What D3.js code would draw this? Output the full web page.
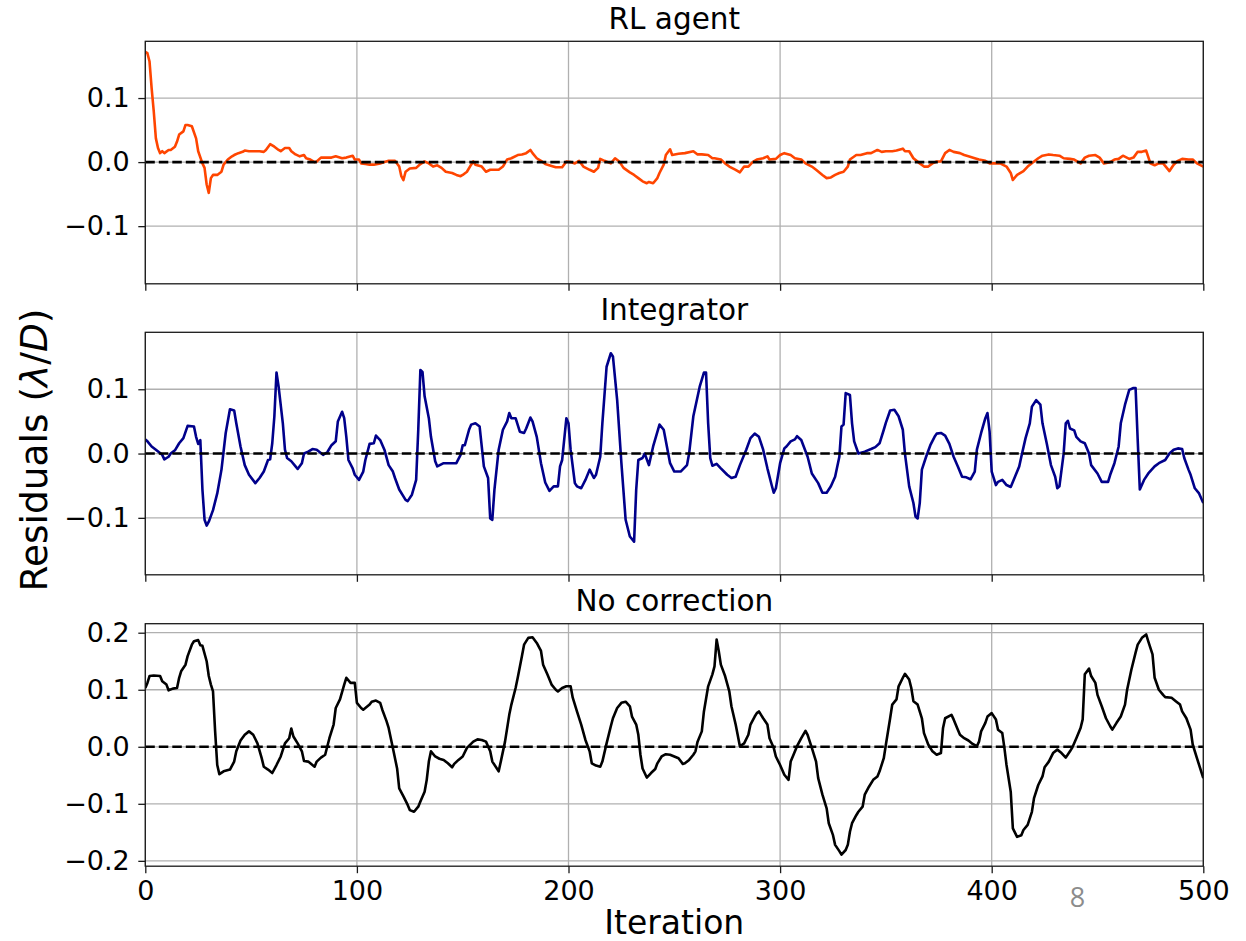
<!DOCTYPE html>
<html>
<head>
<meta charset="utf-8">
<script src="https://cdn.jsdelivr.net/npm/d3@7"></script>
<style>
  html, body { margin: 0; padding: 0; background: #fff; }
  svg { display: block; font-family: "DejaVu Sans", sans-serif; }
</style>
</head>
<body>
<svg id="chart" width="1246" height="941"></svg>
<script>
// ---- data: residuals per iteration for each control strategy ----
const rlIter = [0,1,2,3,4,5,6,7,8,9,11,12,14,15,16,18,19,20,22,24,25,27,28,29,30,31,32,34,36,37,39,41,42,44,46,47,49,51,54,56,57,59,61,63,64,66,68,69,71,73,75,76,78,80,81,83,85,88,90,93,95,98,99,101,102,104,106,108,111,113,115,118,120,121,122,123,125,128,130,132,134,136,138,140,142,145,147,149,150,152,154,155,156,159,161,163,167,169,171,173,176,178,180,182,183,185,187,189,192,194,197,199,201,203,205,207,210,212,214,215,217,220,222,224,226,229,231,233,235,237,238,240,242,243,245,246,248,249,252,255,259,261,263,266,268,269,272,274,276,279,281,283,285,287,289,292,294,295,298,300,302,305,307,310,312,315,317,320,322,324,326,328,330,332,333,336,338,341,343,346,348,350,353,355,358,359,361,363,366,368,370,372,374,376,378,380,382,385,387,389,392,394,397,399,402,404,407,409,410,412,415,417,420,422,424,427,429,432,434,437,439,442,444,446,449,451,453,456,458,460,462,465,467,469,471,473,475,477,479,481,484,486,488,490,493,495,497,500];
const rlResid = [0.172,0.170,0.157,0.115,0.079,0.037,0.022,0.014,0.017,0.014,0.019,0.019,0.024,0.032,0.043,0.048,0.058,0.058,0.056,0.037,0.017,-0.002,-0.009,-0.035,-0.048,-0.025,-0.020,-0.020,-0.015,-0.004,0.004,0.009,0.011,0.014,0.016,0.018,0.017,0.017,0.017,0.016,0.019,0.028,0.024,0.019,0.017,0.022,0.022,0.017,0.012,0.009,0.011,0.006,0.004,0.000,0.001,0.007,0.007,0.007,0.009,0.006,0.007,0.010,0.004,0.004,-0.002,-0.003,-0.004,-0.004,-0.002,0.000,0.002,0.002,-0.007,-0.022,-0.028,-0.015,-0.010,-0.009,-0.003,0.001,-0.002,-0.007,-0.005,-0.009,-0.015,-0.017,-0.020,-0.022,-0.020,-0.015,-0.004,0.001,-0.004,-0.007,-0.015,-0.012,-0.012,-0.007,0.004,0.006,0.011,0.012,0.014,0.019,0.014,0.006,0.002,-0.003,-0.006,-0.008,-0.008,0.001,0.000,-0.002,0.002,-0.007,-0.012,-0.015,-0.009,0.005,0.002,-0.002,0.006,0.001,-0.009,-0.016,-0.020,-0.025,-0.030,-0.033,-0.031,-0.033,-0.025,-0.017,-0.004,0.011,0.020,0.011,0.013,0.014,0.017,0.012,0.012,0.011,0.006,0.006,0.004,-0.002,-0.007,-0.012,-0.016,-0.007,-0.007,0.000,0.004,0.006,0.009,0.004,0.005,0.011,0.014,0.011,0.006,0.004,-0.002,-0.007,-0.012,-0.020,-0.025,-0.024,-0.020,-0.017,-0.015,-0.007,0.004,0.011,0.011,0.014,0.014,0.019,0.016,0.017,0.017,0.018,0.021,0.017,0.017,0.006,-0.002,-0.007,-0.007,-0.002,0.001,0.001,0.014,0.019,0.016,0.014,0.011,0.009,0.006,0.004,0.002,-0.002,-0.002,-0.002,-0.007,-0.017,-0.028,-0.020,-0.014,-0.007,0.001,0.006,0.010,0.012,0.011,0.010,0.006,0.005,0.004,-0.002,0.007,0.010,0.011,0.007,-0.002,0.000,0.004,0.005,0.010,0.005,0.007,0.016,0.016,0.018,-0.002,-0.005,-0.002,-0.002,-0.014,-0.004,0.002,0.005,0.004,0.004,-0.002,-0.007];

const intIter = [0,1,3,5,8,9,11,12,14,16,18,20,23,24,25,26,27,28,29,30,32,34,36,38,40,42,43,45,47,49,52,54,56,58,59,60,61,62,63,65,66,67,69,71,72,74,75,77,79,81,84,86,88,90,91,93,94,95,96,98,99,101,103,104,106,108,109,111,113,115,117,118,120,123,124,126,128,129,130,131,132,134,135,137,138,141,144,147,149,150,151,153,154,156,158,159,160,162,163,164,165,167,169,171,172,173,175,177,179,180,182,183,185,187,189,191,193,195,196,197,199,200,201,203,204,206,208,210,212,213,215,216,218,220,221,223,225,227,229,231,232,233,235,236,238,240,243,245,248,250,253,256,257,259,262,264,265,266,267,268,270,272,275,277,279,281,284,286,288,290,292,294,296,297,298,300,302,303,305,307,308,310,313,315,318,320,322,324,326,328,329,330,331,333,334,335,337,340,343,345,347,349,350,352,354,356,358,359,361,363,364,365,366,367,369,371,373,374,376,378,380,382,384,386,388,390,392,393,395,397,398,399,400,402,403,405,407,409,411,413,414,416,418,419,421,423,424,426,428,430,431,432,434,435,436,437,439,440,442,444,446,447,450,452,455,456,458,460,461,463,465,467,468,469,470,472,474,477,479,482,484,486,488,490,491,493,494,496,498,500];
const intResid = [0.022,0.019,0.011,0.006,-0.002,-0.009,-0.005,0.000,0.005,0.016,0.024,0.043,0.042,0.026,0.015,0.021,-0.056,-0.103,-0.112,-0.106,-0.088,-0.062,-0.025,0.032,0.069,0.067,0.047,0.011,-0.018,-0.033,-0.046,-0.038,-0.028,-0.010,-0.009,0.016,0.058,0.126,0.104,0.047,0.006,-0.007,-0.012,-0.020,-0.024,-0.015,0.000,0.003,0.007,0.006,-0.002,0.002,0.013,0.019,0.050,0.065,0.055,0.026,-0.010,-0.023,-0.033,-0.041,-0.028,-0.010,0.015,0.016,0.028,0.021,0.006,-0.018,-0.028,-0.038,-0.056,-0.072,-0.074,-0.064,-0.041,0.037,0.130,0.127,0.089,0.055,0.026,-0.012,-0.020,-0.015,-0.015,-0.015,-0.002,0.013,0.013,0.037,0.045,0.047,0.042,0.011,-0.020,-0.038,-0.101,-0.103,-0.056,0.006,0.037,0.050,0.063,0.055,0.055,0.034,0.032,0.039,0.056,0.050,0.026,-0.015,-0.045,-0.058,-0.051,-0.051,-0.020,-0.010,0.055,0.047,0.006,-0.046,-0.051,-0.054,-0.041,-0.025,-0.038,-0.033,-0.005,0.047,0.135,0.156,0.151,0.083,-0.015,-0.103,-0.129,-0.137,-0.056,-0.010,-0.007,0.000,-0.018,0.011,0.045,0.037,-0.015,-0.028,-0.028,-0.018,0.000,0.058,0.104,0.126,0.126,0.047,-0.007,-0.019,-0.016,-0.023,-0.033,-0.038,-0.036,-0.018,0.006,0.024,0.031,0.026,0.006,-0.023,-0.049,-0.061,-0.054,-0.015,0.008,0.011,0.019,0.022,0.027,0.021,-0.005,-0.031,-0.046,-0.061,-0.061,-0.051,-0.036,-0.005,0.042,0.045,0.094,0.091,0.047,0.019,0.000,0.003,0.007,0.010,0.016,0.037,0.048,0.067,0.068,0.058,0.037,0.000,-0.051,-0.077,-0.098,-0.101,-0.077,-0.025,-0.005,0.013,0.026,0.031,0.032,0.028,0.015,-0.005,-0.020,-0.036,-0.037,-0.040,-0.028,0.006,0.032,0.055,0.063,0.034,-0.028,-0.049,-0.044,-0.041,-0.049,-0.052,-0.036,-0.020,-0.005,0.024,0.047,0.073,0.083,0.076,0.047,0.016,-0.018,-0.036,-0.054,-0.051,0.000,0.047,0.051,0.039,0.036,0.026,0.019,0.016,0.000,-0.018,-0.031,-0.044,-0.044,-0.033,-0.015,0.011,0.047,0.076,0.099,0.102,0.102,0.021,-0.056,-0.041,-0.031,-0.020,-0.015,-0.010,0.000,0.006,0.008,0.007,-0.007,-0.025,-0.033,-0.054,-0.062,-0.077];

const noIter = [0,1,2,4,7,8,10,11,13,15,16,17,19,20,22,23,25,26,27,29,30,31,32,33,34,35,37,40,42,43,45,47,49,51,53,55,56,58,60,62,64,66,68,69,70,72,74,75,77,80,81,83,85,87,89,90,92,94,95,97,99,100,102,103,106,107,109,111,112,114,115,117,119,120,122,124,125,127,129,130,132,133,134,135,137,139,141,143,145,146,148,150,152,155,157,159,161,163,164,167,168,170,172,173,175,176,178,179,181,183,185,187,188,190,192,194,195,197,199,201,202,204,206,208,210,211,213,215,216,218,220,221,223,225,227,229,230,232,233,234,235,237,239,241,242,244,246,248,250,252,254,255,257,259,260,261,263,264,266,268,269,270,271,272,274,276,277,279,281,283,285,286,288,289,290,292,294,295,297,298,300,302,304,305,306,308,310,312,313,315,317,318,320,322,323,325,326,328,329,331,332,333,334,336,337,339,340,342,344,346,347,349,350,352,353,355,356,358,359,361,362,363,365,367,368,370,372,374,376,377,378,381,382,384,385,387,389,391,393,394,395,397,398,400,402,403,405,406,407,409,410,412,414,415,417,419,420,422,424,425,427,429,431,433,435,437,438,440,442,443,444,446,447,449,450,452,454,456,457,459,461,463,464,466,468,469,471,473,474,476,477,479,481,482,485,487,489,490,492,494,495,497,500];
const noResid = [0.103,0.112,0.124,0.125,0.124,0.115,0.109,0.099,0.102,0.103,0.121,0.133,0.144,0.159,0.179,0.185,0.187,0.178,0.177,0.150,0.124,0.109,0.097,0.027,-0.032,-0.048,-0.043,-0.040,-0.026,-0.008,0.011,0.021,0.027,0.021,0.006,-0.020,-0.035,-0.040,-0.046,-0.032,-0.017,0.006,0.015,0.032,0.018,0.006,-0.008,-0.025,-0.026,-0.035,-0.026,-0.019,-0.014,0.015,0.039,0.068,0.083,0.109,0.121,0.112,0.112,0.077,0.068,0.065,0.074,0.079,0.081,0.077,0.065,0.045,0.033,-0.002,-0.038,-0.073,-0.087,-0.102,-0.111,-0.114,-0.105,-0.096,-0.079,-0.058,-0.026,-0.008,-0.017,-0.021,-0.023,-0.029,-0.036,-0.030,-0.023,-0.017,-0.002,0.009,0.013,0.012,0.009,-0.008,-0.026,-0.043,-0.026,0.009,0.056,0.074,0.103,0.121,0.159,0.179,0.191,0.192,0.182,0.168,0.144,0.127,0.109,0.100,0.097,0.103,0.106,0.106,0.086,0.062,0.039,0.012,-0.008,-0.029,-0.033,-0.035,-0.026,0.006,0.036,0.050,0.068,0.077,0.079,0.071,0.053,0.039,0.021,-0.014,-0.038,-0.054,-0.046,-0.039,-0.029,-0.017,-0.013,-0.014,-0.017,-0.020,-0.030,-0.029,-0.023,-0.014,-0.008,0.009,0.027,0.062,0.106,0.127,0.141,0.188,0.168,0.144,0.124,0.097,0.071,0.039,0.001,0.006,0.021,0.039,0.053,0.059,0.062,0.050,0.039,0.015,-0.002,-0.017,-0.032,-0.049,-0.058,-0.026,-0.017,0.001,0.015,0.028,0.021,-0.002,-0.026,-0.055,-0.084,-0.108,-0.134,-0.155,-0.172,-0.183,-0.189,-0.181,-0.172,-0.149,-0.134,-0.120,-0.114,-0.105,-0.084,-0.070,-0.058,-0.052,-0.043,-0.020,0.004,0.050,0.074,0.083,0.106,0.121,0.128,0.118,0.103,0.080,0.074,0.050,0.024,0.004,-0.008,-0.014,-0.011,0.033,0.050,0.056,0.048,0.030,0.021,0.015,0.011,0.005,0.001,0.009,0.027,0.042,0.053,0.059,0.048,0.030,0.024,-0.002,-0.032,-0.079,-0.143,-0.158,-0.155,-0.146,-0.137,-0.114,-0.090,-0.067,-0.052,-0.036,-0.026,-0.011,-0.005,-0.011,-0.019,-0.008,-0.002,0.015,0.033,0.048,0.127,0.137,0.124,0.112,0.091,0.071,0.050,0.036,0.030,0.042,0.053,0.074,0.100,0.135,0.165,0.179,0.191,0.197,0.185,0.162,0.121,0.100,0.091,0.087,0.086,0.080,0.074,0.062,0.050,0.030,0.004,-0.020,-0.055];

const panelTitles = ["RL agent", "Integrator", "No correction"];
const seriesColors = ["#ff4500", "#00008b", "#000000"];
const xTicks = [0, 100, 200, 300, 400, 500];
const yTicksSmall = [-0.1, 0.0, 0.1];
const yTicksLarge = [-0.2, -0.1, 0.0, 0.1, 0.2];
const yDomains = [[-0.19, 0.1886], [-0.1886, 0.1886], [-0.2094, 0.2158]];

// ---- layout ----
const svg = d3.select("#chart");
const left = 145.3, right = 1203.3;
const panelTops = [41.3, 332.3, 623.7];
const panelH = 242.5;

const x = d3.scaleLinear().domain([0, 500]).range([left, right]);

const series = [
  { iter: rlIter, resid: rlResid },
  { iter: intIter, resid: intResid },
  { iter: noIter, resid: noResid }
];

const fmt = d3.format(".1f");

series.forEach((s, i) => {
  const top = panelTops[i], bottom = top + panelH;
  const y = d3.scaleLinear().domain(yDomains[i]).range([bottom, top]);
  const yTicks = i === 2 ? yTicksLarge : yTicksSmall;
  const g = svg.append("g");

  // clip region for this axes
  const clipId = "clip" + i;
  svg.append("clipPath").attr("id", clipId)
    .append("rect").attr("x", left).attr("y", top)
    .attr("width", right - left).attr("height", panelH);

  // grid
  const grid = g.append("g").attr("stroke", "#b0b0b0").attr("stroke-width", 1.3);
  grid.selectAll("line.gx").data(xTicks).join("line")
    .attr("x1", d => x(d)).attr("x2", d => x(d))
    .attr("y1", top).attr("y2", bottom);
  grid.selectAll("line.gy").data(yTicks).join("line")
    .attr("x1", left).attr("x2", right)
    .attr("y1", d => y(d)).attr("y2", d => y(d));

  // residual trace
  const pts = s.iter.map((it, k) => [it, s.resid[k]]);
  g.append("path")
    .attr("clip-path", `url(#${clipId})`)
    .attr("d", d3.line().x(d => x(d[0])).y(d => y(d[1]))(pts))
    .attr("fill", "none")
    .attr("stroke", seriesColors[i])
    .attr("stroke-width", 2.6)
    .attr("stroke-linejoin", "round");

  // zero reference
  g.append("line")
    .attr("x1", left).attr("x2", right)
    .attr("y1", y(0)).attr("y2", y(0))
    .attr("stroke", "#000").attr("stroke-width", 2.6)
    .attr("stroke-dasharray", "9.5,4");

  // frame
  g.append("rect")
    .attr("x", left).attr("y", top)
    .attr("width", right - left).attr("height", panelH)
    .attr("fill", "none").attr("stroke", "#1a1a1a").attr("stroke-width", 1.3);

  // y axis
  const ya = g.append("g").attr("transform", `translate(${left},0)`)
    .call(d3.axisLeft(y).tickValues(yTicks).tickFormat(fmt).tickSize(7).tickSizeOuter(0).tickPadding(8.5));
  ya.select(".domain").remove();
  ya.selectAll("line").attr("stroke", "#1a1a1a").attr("stroke-width", 1.3);
  ya.selectAll("text").attr("font-size", 27).attr("fill", "#000")
    .attr("font-family", "DejaVu Sans");

  // x axis (labels only on the bottom panel)
  const xa = g.append("g").attr("transform", `translate(0,${bottom})`)
    .call(d3.axisBottom(x).tickValues(xTicks).tickSize(7).tickSizeOuter(0).tickPadding(8)
      .tickFormat(i === 2 ? d3.format("d") : () => ""));
  xa.select(".domain").remove();
  xa.selectAll("line").attr("stroke", "#1a1a1a").attr("stroke-width", 1.3);
  xa.selectAll("text").attr("font-size", 27).attr("fill", "#000")
    .attr("font-family", "DejaVu Sans");

  // title
  svg.append("text")
    .attr("x", (left + right) / 2).attr("y", top - 12.5)
    .attr("text-anchor", "middle")
    .attr("font-size", 29.5)
    .attr("fill", "#000")
    .text(panelTitles[i]);
});

// axis labels
svg.append("text")
  .attr("x", (left + right) / 2).attr("y", 934)
  .attr("text-anchor", "middle")
  .attr("font-size", 33)
  .attr("fill", "#000")
  .text("Iteration");

const yl = svg.append("text")
  .attr("transform", "translate(47,450) rotate(-90)")
  .attr("text-anchor", "middle")
  .attr("font-size", 37.5)
  .attr("fill", "#000");
yl.append("tspan").text("Residuals (");
yl.append("tspan").attr("font-style", "italic").text("λ");
yl.append("tspan").text("/");
yl.append("tspan").attr("font-style", "italic").text("D");
yl.append("tspan").text(")");

// page number
svg.append("text")
  .attr("x", 1077.5).attr("y", 907)
  .attr("text-anchor", "middle")
  .attr("font-size", 27)
  .attr("font-family", "Open Sans")
  .attr("fill", "#8c8c8c")
  .text("8");
</script>
</body>
</html>
